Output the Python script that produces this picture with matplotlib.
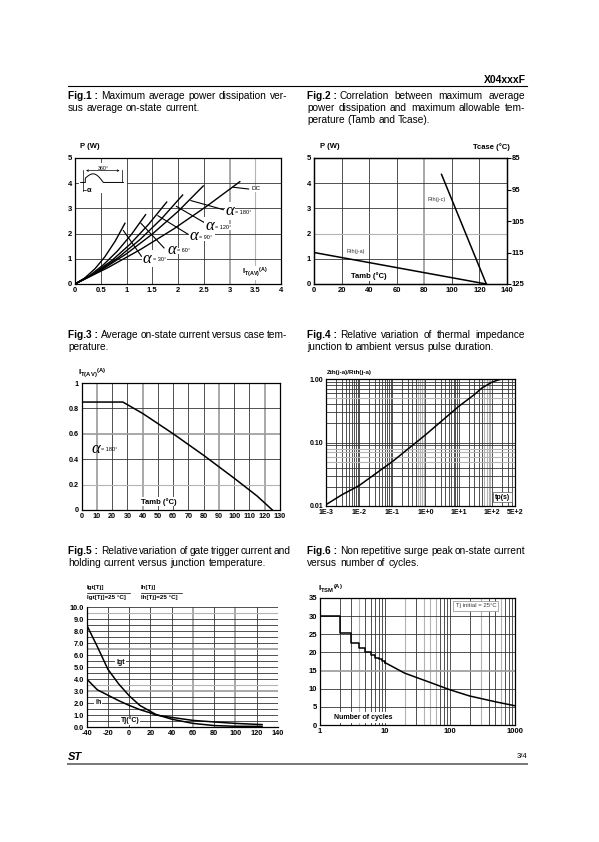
import numpy as np
import matplotlib
matplotlib.use("Agg")
import matplotlib.pyplot as plt

plt.rcParams['font.family'] = ['Liberation Sans', 'DejaVu Sans']
plt.rcParams['mathtext.fontset'] = 'custom'
plt.rcParams['mathtext.rm'] = 'Liberation Sans'
plt.rcParams['mathtext.bf'] = 'Liberation Sans:bold'
plt.rcParams['mathtext.it'] = 'Liberation Sans:italic'

# Fig.1  P(W) vs IT(AV)(A) for conduction angles
f1_curves = {
    "DC":  ([0, 0.64, 1.28, 1.92, 2.56, 3.2], [0, 0.65, 1.38, 2.19, 3.09, 4.06]),
    "180": ([0, 0.5, 1.0, 1.5, 2.0, 2.49], [0, 0.54, 1.20, 1.98, 2.88, 3.89]),
    "120": ([0, 0.42, 0.84, 1.26, 1.68, 2.09], [0, 0.46, 1.05, 1.76, 2.59, 3.53]),
    "90":  ([0, 0.36, 0.72, 1.07, 1.43, 1.78], [0, 0.41, 0.94, 1.58, 2.37, 3.25]),
    "60":  ([0, 0.27, 0.55, 0.82, 1.1, 1.37], [0, 0.31, 0.76, 1.30, 1.98, 2.75]),
    "30":  ([0, 0.19, 0.39, 0.58, 0.78, 0.97], [0, 0.24, 0.61, 1.08, 1.70, 2.41]),
}
f1_xticks = [0, 0.5, 1, 1.5, 2, 2.5, 3, 3.5, 4]
f1_xlabels = ["0", "0.5", "1", "1.5", "2", "2.5", "3", "3.5", "4"]

# Fig.2  P(W) vs Tamb / Tcase
f2_rja_t = [0, 125]
f2_rja_p = [1.25, 0]
f2_rjc_t = [92.5, 125]
f2_rjc_p = [4.35, 0]
f2_tcase = [85, 95, 105, 115, 125]

# Fig.3  IT(AV) vs Tamb
f3_t = [0, 27, 40, 60, 80, 100, 115, 125]
f3_i = [0.85, 0.85, 0.76, 0.60, 0.43, 0.25, 0.11, 0]

# Fig.4  Zth/Rth vs tp
f4_tp = [1e-3, 3e-3, 1e-2, 1e-1, 1, 10, 30, 50, 100, 150, 200, 500]
f4_z = [0.0105, 0.015, 0.021, 0.050, 0.132, 0.37, 0.57, 0.72, 0.89, 0.96, 1.0, 1.0]
f4_xlabels = ["1E-3", "1E-2", "1E-1", "1E+0", "1E+1", "1E+2", "5E+2"]

# Fig.5  Igt, Ih relative vs Tj
f5_tj = [-40, -30, -20, -10, 0, 10, 20, 25, 40, 60, 80, 100, 125]
f5_igt = [8.5, 6.7, 4.8, 3.6, 2.6, 1.8, 1.3, 1.05, 0.65, 0.3, 0.12, 0.06, 0.05]
f5_ih = [4.0, 3.1, 2.65, 2.2, 1.8, 1.45, 1.17, 1.0, 0.8, 0.55, 0.42, 0.3, 0.2]

# Fig.6  ITSM vs number of cycles
f6_n_step = [1, 2, 3, 4, 5, 6, 7, 8, 9, 10]
f6_i_step = [30, 25.3, 22.7, 21.2, 20.1, 19.3, 18.6, 18.1, 17.7, 17.2]
f6_n = [10, 20, 50, 100, 200, 500, 1000]
f6_i = [17.2, 14.3, 11.7, 9.7, 8.0, 6.4, 5.3]

W, H = 599, 842
fig = plt.figure(figsize=(W / 100, H / 100), dpi=100)


def add_ax(x0, y0, x1, y1):
    return fig.add_axes([x0 / W, 1 - y1 / H, (x1 - x0) / W, (y1 - y0) / H])


def fpos(x, y):
    return x / W, 1 - y / H


def style(ax, xt, xl, yt, yl, size=5.5):
    for s in ax.spines.values():
        s.set_linewidth(0.9)
    ax.set_xticks(xt)
    ax.set_xticklabels(xl, fontweight="bold", fontsize=size)
    ax.set_yticks(yt)
    ax.set_yticklabels(yl, fontweight="bold", fontsize=size)
    ax.tick_params(length=0, pad=2)
    ax.minorticks_off()


def grid(ax, xs, ys, gray_x=(), gray_y=(), light_x=(), light_y=()):
    for x in xs:
        if x in gray_x:
            ax.axvline(x, color="#9a9a9a", lw=1.2, zorder=0)
        elif x in light_x:
            ax.axvline(x, color="#b4b4b4", lw=0.8, zorder=0)
        else:
            ax.axvline(x, color="#333333", lw=0.6, zorder=0)
    for y in ys:
        if y in gray_y:
            ax.axhline(y, color="#9a9a9a", lw=1.2, zorder=0)
        elif y in light_y:
            ax.axhline(y, color="#b4b4b4", lw=0.8, zorder=0)
        else:
            ax.axhline(y, color="#333333", lw=0.6, zorder=0)


WB = dict(facecolor="white", edgecolor="none", pad=0.6)

# ================= Fig.1 =================
ax1 = add_ax(75, 158, 281, 284)
ax1.set_xlim(0, 4)
ax1.set_ylim(0, 5)
style(ax1, f1_xticks, f1_xlabels, range(6), [str(v) for v in range(6)])
grid(ax1, f1_xticks[1:-1], [1, 2, 3, 4], gray_x=(3,), light_x=(3.5,))
for key, (xi, yp) in f1_curves.items():
    ax1.plot(xi, yp, color="black", lw=1.0, zorder=3)

# inset waveform sketch
ax1.add_patch(plt.Rectangle((0.08, 3.6), 0.92, 1.2, facecolor="white", edgecolor="none", zorder=2))
ph = np.linspace(0, np.pi, 30)
wx = np.concatenate([[0.11, 0.2, 0.2], 0.2 + 0.35 * ph / np.pi, [0.94]])
wy = np.concatenate([[4.03, 4.03, 4.2], 4.03 + 0.17 + 0.25 * np.sin(ph) - 0.17 * ph / np.pi, [4.03]])
ax1.plot(wx, wy, color="black", lw=0.7, zorder=3)
ax1.plot([0.16, 0.16], [3.68, 4.52], color="black", lw=0.5, zorder=3)
ax1.plot([0.92, 0.92], [4.03, 4.52], color="black", lw=0.5, zorder=3)
ax1.annotate("", xy=(0.16, 4.5), xytext=(0.92, 4.5),
             arrowprops=dict(arrowstyle="<->", lw=0.5, mutation_scale=3), zorder=3)
ax1.text(0.54, 4.6, "360°", fontsize=3.8, ha="center", va="center", zorder=3)
ax1.plot([0.16, 0.21], [3.75, 3.75], color="black", lw=0.5, zorder=3)
ax1.text(0.22, 3.73, "α", fontsize=5.5, fontweight="bold", ha="left", va="center", zorder=3)

# curve labels
f1_lab = [
    ("180", (2.25, 3.31), (2.88, 2.95), 3.09, 2.90),
    ("120", (1.97, 3.08), (2.50, 2.45), 2.70, 2.31),
    ("90", (1.61, 2.71), (2.19, 1.98), 2.39, 1.89),
    ("60", (1.28, 2.41), (1.73, 1.43), 1.97, 1.36),
    ("30", (0.94, 2.12), (1.29, 1.10), 1.49, 1.01),
]
for ang, p0, p1, tx, ty in f1_lab:
    ax1.plot([p0[0], p1[0]], [p0[1], p1[1]], color="black", lw=0.8, zorder=3)
    ax1.text(tx, ty, "α", fontsize=12, family="Liberation Serif", style="italic",
             ha="right", va="center", zorder=4, bbox=WB)
    ax1.text(tx + 0.02, ty - 0.05, "= %s°" % ang, fontsize=4, ha="left", va="center",
             zorder=4, bbox=WB)
ax1.plot([3.07, 3.37], [3.84, 3.77], color="black", lw=0.8, zorder=3)
ax1.text(3.42, 3.77, "DC", fontsize=4.5, ha="left", va="center", zorder=4, bbox=WB)
ax1.text(3.5, 0.44, r"$\mathbf{I}_{\mathbf{T(AV)}}$$^{\mathbf{(A)}}$", fontsize=5.5,
         ha="center", va="center", zorder=4, bbox=WB)
fig.text(*fpos(80, 147), "P (W)", fontsize=5.5, fontweight="bold", va="center")

# ================= Fig.2 =================
ax2 = add_ax(314, 158, 507, 284)
ax2.set_xlim(0, 140)
ax2.set_ylim(0, 5)
style(ax2, range(0, 141, 20), [str(v) for v in range(0, 141, 20)],
      range(6), [str(v) for v in range(6)])
grid(ax2, range(20, 121, 20), [1, 2, 3, 4], gray_x=(80,), light_y=(2,))
ax2.plot(f2_rja_t, f2_rja_p, color="black", lw=1.1, zorder=3)
ax2.plot(f2_rjc_t, f2_rjc_p, color="black", lw=1.1, zorder=3)
ax2.text(88.6, 3.37, "Rth(j-c)", fontsize=4, color="#333333", ha="center", va="center",
         zorder=4, bbox=WB)
ax2.text(30.4, 1.27, "Rth(j-a)", fontsize=4, color="#333333", ha="center", va="center",
         zorder=4, bbox=WB)
ax2.text(40, 0.30, "Tamb (°C)", fontsize=5.5, fontweight="bold", ha="center", va="center",
         zorder=4, bbox=WB)
ax2r = ax2.twinx()
ax2r.set_ylim(125, 85)
ax2r.set_yticks(f2_tcase)
ax2r.set_yticklabels([str(v) for v in f2_tcase], fontweight="bold", fontsize=5.5)
ax2r.tick_params(length=3, width=0.8, pad=0.5, direction="out")
for s in ax2r.spines.values():
    s.set_linewidth(0.9)
fig.text(*fpos(320, 147), "P (W)", fontsize=5.5, fontweight="bold", va="center")
fig.text(*fpos(510, 147), "Tcase (°C)", fontsize=5.5, fontweight="bold", va="center", ha="right")

# ================= Fig.3 =================
ax3 = add_ax(81.7, 383, 280, 510)
ax3.set_xlim(0, 130)
ax3.set_ylim(0, 1)
style(ax3, range(0, 131, 10), [str(v) for v in range(0, 131, 10)],
      [0, 0.2, 0.4, 0.6, 0.8, 1], ["0", "0.2", "0.4", "0.6", "0.8", "1"], size=5.2)
grid(ax3, range(10, 121, 10), [0.2, 0.4, 0.6, 0.8], gray_x=(10, 40, 90, 120),
     gray_y=(0.6,), light_y=(0.2,))
ax3.plot(f3_t, f3_i, color="black", lw=1.1, zorder=3)
ax3.text(12.3, 0.48, "α", fontsize=12, family="Liberation Serif", style="italic",
         ha="right", va="center", zorder=4)
ax3.text(12.6, 0.475, "= 180°", fontsize=4, ha="left", va="center", zorder=4)
ax3.text(50.7, 0.066, "Tamb (°C)", fontsize=5.5, fontweight="bold", ha="center", va="center",
         zorder=4, bbox=WB)
fig.text(*fpos(78, 373), r"$\mathbf{I}_{\mathbf{T(AV)}}$$^{\mathbf{(A)}}$", fontsize=6, va="center")

# ================= Fig.4 =================
ax4 = add_ax(326, 379, 515, 506)
ax4.set_xscale("log")
ax4.set_yscale("log")
ax4.set_xlim(1e-3, 5e2)
ax4.set_ylim(0.01, 1)
style(ax4, [1e-3, 1e-2, 1e-1, 1, 10, 100, 500], f4_xlabels,
      [0.01, 0.1, 1], ["0.01", "0.10", "1.00"], size=5)
xs4 = [m * 10.0 ** e for e in range(-3, 3) for m in range(1, 10) if m * 10.0 ** e <= 500]
ys4 = [m * 10.0 ** e for e in (-2, -1) for m in range(1, 10)]
gx4 = [m * 10.0 ** e for e in (-1, 1) for m in (6, 7, 8, 9)]
gy4 = [m * 0.01 for m in (5, 6, 7, 8)] + [0.5, 0.6]
grid(ax4, xs4[1:], ys4[1:], light_x=gx4, light_y=gy4)
ax4.plot(f4_tp, f4_z, color="black", lw=1.1, zorder=3)
ax4.text(210, 0.0137, "tp(s)", fontsize=5, fontweight="bold", ha="center", va="center", zorder=4,
         bbox=dict(facecolor="white", edgecolor="#555555", lw=0.5, pad=1.2))
fig.text(*fpos(327, 372.7), "Zth(j-a)/Rth(j-a)", fontsize=4.5, fontweight="bold", va="center")

# ================= Fig.5 =================
ax5 = add_ax(86.7, 607, 278, 727)
ax5.set_xlim(-40, 140)
ax5.set_ylim(0, 10)
style(ax5, range(-40, 141, 20), [str(v) for v in range(-40, 141, 20)],
      range(0, 11), ["%.1f" % v for v in range(0, 11)], size=5.3)
ax5.spines["right"].set_visible(False)
ax5.spines["top"].set_visible(False)
grid(ax5, range(-20, 141, 20), [v / 2 for v in range(1, 21)], gray_x=(60, 100),
     gray_y=(3.0, 6.5), light_y=(3.5, 9.5))
ax5.plot(f5_tj, f5_igt, color="black", lw=1.1, zorder=3)
ax5.plot(f5_tj, f5_ih, color="black", lw=1.1, zorder=3)
ax5.text(-8.1, 5.39, "Igt", fontsize=5, fontweight="bold", ha="center", va="center", zorder=4, bbox=WB)
ax5.text(-29, 2.07, "Ih", fontsize=5, fontweight="bold", ha="center", va="center", zorder=4, bbox=WB)
ax5.text(0.7, 0.56, "Tj(°C)", fontsize=5, fontweight="bold", ha="center", va="center", zorder=4, bbox=WB)
for x0, x1, top, bot in [(87, 130, "Igt[Tj]", "Igt[Tj]=25 °C]"), (141, 182, "Ih[Tj]", "Ih[Tj]=25 °C]")]:
    fig.text(*fpos(x0, 588), top, fontsize=4.5, fontweight="bold", va="center")
    fig.text(*fpos(x0, 598), bot, fontsize=4.5, fontweight="bold", va="center")
    fig.add_artist(plt.Line2D([x0 / W, x1 / W], [1 - 592.5 / H] * 2, color="black", lw=0.5))

# ================= Fig.6 =================
ax6 = add_ax(320, 598, 515, 725)
ax6.set_xscale("log")
ax6.set_xlim(1, 1000)
ax6.set_ylim(0, 35)
style(ax6, [1, 10, 100, 1000], ["1", "10", "100", "1000"],
      range(0, 36, 5), [str(v) for v in range(0, 36, 5)], size=5.5)
xs6 = [m * 10.0 ** e for e in range(0, 3) for m in range(1, 10)]
grid(ax6, xs6[1:], range(5, 31, 5), light_x=(4, 20, 40, 50, 60, 300, 600),
     gray_y=(15,))
ax6.step(f6_n_step, f6_i_step, where="post", color="black", lw=1.1, zorder=3)
ax6.plot(f6_n, f6_i, color="black", lw=1.1, zorder=3)
ax6.text(4.6, 2.0, "Number of cycles", fontsize=5, fontweight="bold", ha="center", va="center",
         zorder=4, bbox=dict(facecolor="white", edgecolor="none", pad=1.5))
ax6.text(250, 32.8, "Tj initial = 25°C", fontsize=4.3, color="#333333", ha="center", va="center",
         zorder=4, bbox=dict(facecolor="white", edgecolor="#888888", lw=0.5, pad=1.5))
fig.text(*fpos(318, 589), r"$\mathbf{I}_{\mathbf{TSM}}$$^{\mathbf{(A)}}$", fontsize=6, va="center")

# ================= page text =================
renderer = fig.canvas.get_renderer()
CAP = 7.3


def caption(x, y, num, lines, x_end):
    t = fig.text(*fpos(x, y), "Fig.%d :" % num, fontsize=CAP, fontweight="bold", va="center")
    w = t.get_window_extent(renderer).width
    for k, line in enumerate(lines):
        lx = x + w + 3 if k == 0 else x
        words = line.split(" ")
        justify = k < len(lines) - 1
        tmp = [fig.text(0, 0, wd, fontsize=CAP) for wd in words]
        ws = [tt.get_window_extent(renderer).width for tt in tmp]
        for tt in tmp:
            tt.remove()
        gap = 2.8
        if justify and len(words) > 1:
            gap = max(1.6, (x_end - lx - sum(ws)) / (len(words) - 1))
        cx = lx
        for wd, ww in zip(words, ws):
            fig.text(*fpos(cx, y + k * 11.8), wd, fontsize=CAP, va="center")
            cx += ww + gap


caption(68, 96, 1, ["Maximum average power dissipation ver-", "sus average on-state current."], 287)
caption(307, 96, 2, ["Correlation between maximum average", "power dissipation and maximum allowable tem-",
                     "perature (Tamb and Tcase)."], 525)
caption(68, 335, 3, ["Average on-state current versus case tem-", "perature."], 287)
caption(307, 335, 4, ["Relative variation of thermal impedance", "junction to ambient versus pulse duration."], 525)
caption(68, 551.5, 5, ["Relative variation of gate trigger current and",
                       "holding current versus junction temperature."], 287)
caption(307, 551.5, 6, ["Non repetitive surge peak on-state current", "versus number of cycles."], 525)

fig.text(*fpos(526, 80), "X04xxxF", fontsize=7.5, fontweight="bold", ha="right", va="center")
fig.add_artist(plt.Line2D([68 / W, 527 / W], [1 - 85.5 / H] * 2, color="black", lw=0.8))
fig.text(*fpos(68, 757), "ST", fontsize=8, fontweight="bold", style="italic", va="center")
fig.text(*fpos(527, 757), "3/4", fontsize=5.5, ha="right", va="center")
fig.add_artist(plt.Line2D([68 / W, 527 / W], [1 - 764 / H] * 2, color="#777777", lw=1.4))

fig.savefig("out.png", dpi=100)
